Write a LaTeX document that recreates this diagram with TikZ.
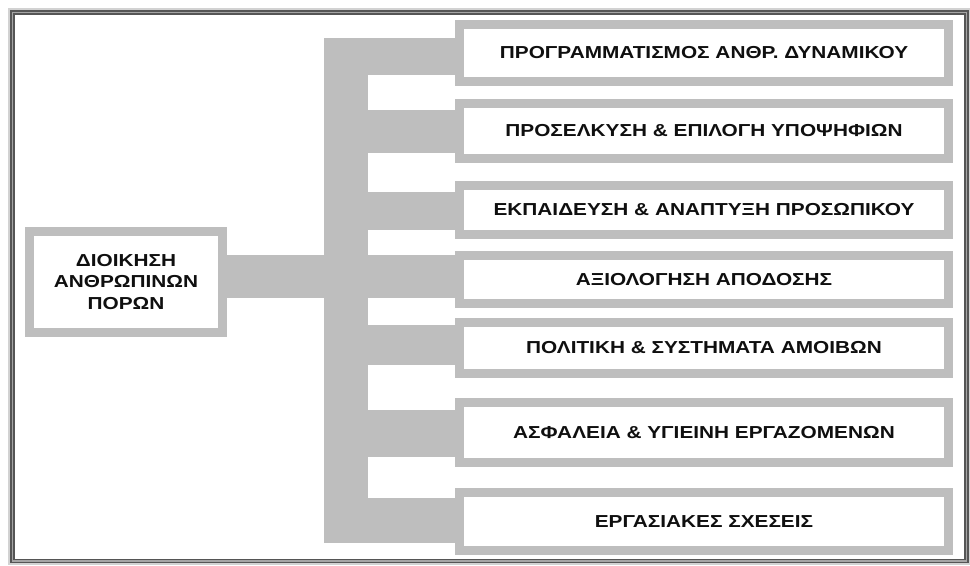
\documentclass[tikz,border=0pt]{standalone}
\usepackage{fontspec}
\usetikzlibrary{calc}
\newfontfamily\lab{Liberation Sans}[FakeStretch=1.2]
\definecolor{bargray}{RGB}{190,190,190}
\definecolor{framedark}{RGB}{85,85,85}
\definecolor{framemid}{RGB}{165,165,165}
\definecolor{txt}{RGB}{15,15,15}
\begin{document}
\begin{tikzpicture}[x=0.75pt,y=-0.75pt,
  lbl/.style={font=\lab\bfseries\fontsize{13pt}{16.1pt}\selectfont, text=txt},
  areabox/.style={lbl, draw=bargray, line width=6.75pt, fill=white, inner sep=0pt,
     minimum width=489*0.75pt},
  rootbox/.style={lbl, draw=bargray, line width=6.75pt, fill=white, inner sep=0pt,
     minimum width=193*0.75pt, minimum height=101*0.75pt, align=center},
  busbar/.style={fill=bargray, draw=none, inner sep=0pt, minimum width=44*0.75pt,
     minimum height=505*0.75pt},
  stub/.style={draw=bargray, line cap=butt}
]
\useasboundingbox (0,0) rectangle (970,566);
% outer frame
\draw[gray!35, line width=1.5pt] (9,9) rectangle (969,564);
\draw[draw=framedark, double=framemid, double distance=1.1pt, line width=1.2pt]
  (12.5,12.5) rectangle (966.5,561);
% vertical bus
\node[busbar] (bus) at (346,290.5) {};
% box positions
\path
  (704,53)    coordinate (p1)
  (704,131)   coordinate (p2)
  (704,210)   coordinate (p3)
  (704,279.5) coordinate (p4)
  (704,348)   coordinate (p5)
  (704,432.5) coordinate (p6)
  (704,521.5) coordinate (p7);
\node[rootbox] (L) at (126,282) {ΔΙΟΙΚΗΣΗ\\ΑΝΘΡΩΠΙΝΩΝ\\ΠΟΡΩΝ};
\node[areabox, minimum height=57*0.75pt] (b1) at (p1) {ΠΡΟΓΡΑΜΜΑΤΙΣΜΟΣ ΑΝΘΡ. ΔΥΝΑΜΙΚΟΥ};
\node[areabox, minimum height=55*0.75pt] (b2) at (p2) {ΠΡΟΣΕΛΚΥΣΗ \& ΕΠΙΛΟΓΗ ΥΠΟΨΗΦΙΩΝ};
\node[areabox, minimum height=49*0.75pt] (b3) at (p3) {ΕΚΠΑΙΔΕΥΣΗ \& ΑΝΑΠΤΥΞΗ ΠΡΟΣΩΠΙΚΟΥ};
\node[areabox, minimum height=48*0.75pt] (b4) at (p4) {ΑΞΙΟΛΟΓΗΣΗ ΑΠΟΔΟΣΗΣ};
\node[areabox, minimum height=51*0.75pt] (b5) at (p5) {ΠΟΛΙΤΙΚΗ \& ΣΥΣΤΗΜΑΤΑ ΑΜΟΙΒΩΝ};
\node[areabox, minimum height=60*0.75pt] (b6) at (p6) {ΑΣΦΑΛΕΙΑ \& ΥΓΙΕΙΝΗ ΕΡΓΑΖΟΜΕΝΩΝ};
\node[areabox, minimum height=58*0.75pt] (b7) at (p7) {ΕΡΓΑΣΙΑΚΕΣ ΣΧΕΣΕΙΣ};
% connector anchors
\coordinate (c0) at ($(L.east)+(0,-5.5)$);
\coordinate (s1) at ($(b1.west)+(0,3.5)$);
\coordinate (s2) at ($(b2.west)+(0,0.5)$);
\coordinate (s3) at ($(b3.west)+(0,1)$);
\coordinate (s4) at ($(b4.west)+(0,-3)$);
\coordinate (s5) at ($(b5.west)+(0,-3)$);
\coordinate (s6) at ($(b6.west)+(0,1)$);
\coordinate (s7) at ($(b7.west)+(0,-1)$);
% connectors
\draw[stub, line width=43*0.75pt] (c0) -- (c0 -| bus.center);
\draw[stub, line width=37*0.75pt] (bus.center |- s1) -- (s1);
\draw[stub, line width=43*0.75pt] (bus.center |- s2) -- (s2);
\draw[stub, line width=38*0.75pt] (bus.center |- s3) -- (s3);
\draw[stub, line width=43*0.75pt] (bus.center |- s4) -- (s4);
\draw[stub, line width=40*0.75pt] (bus.center |- s5) -- (s5);
\draw[stub, line width=47*0.75pt] (bus.center |- s6) -- (s6);
\draw[stub, line width=45*0.75pt] (bus.center |- s7) -- (s7);
\end{tikzpicture}
\end{document}
